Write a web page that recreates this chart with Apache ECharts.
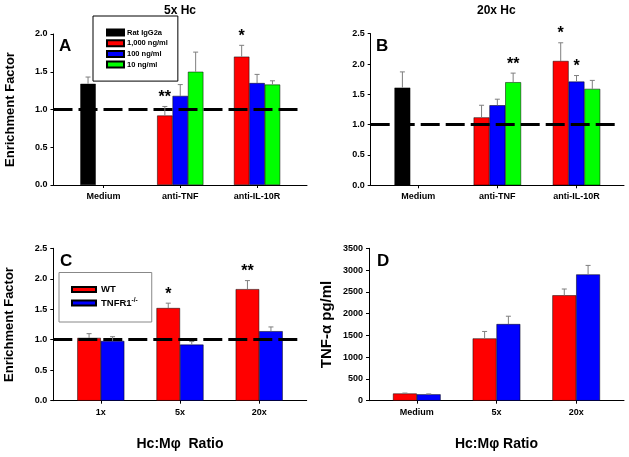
<!DOCTYPE html>
<html>
<head>
<meta charset="utf-8">
<script src="https://cdn.jsdelivr.net/npm/echarts@6/dist/echarts.min.js"></script>
<style>
  html, body { margin: 0; padding: 0; background: #fff; }
  #chart { width: 629px; height: 457px; }
</style>
</head>
<body>
<div id="chart"></div>
<script>
const FONT = "'Liberation Sans', Arial, sans-serif"

// categories
const groupsAB = ['Medium', 'anti-TNF', 'anti-IL-10R']
const ratiosC = ['1x', '5x', '20x']
const ratiosD = ['Medium', '5x', '20x']

// panel A (5x Hc)
const ratA = [1.34, null, null]
const ratAErr = [0.09, null, null]
const hiA = [null, 0.92, 1.70]
const hiAErr = [null, 0.12, 0.15]
const midA = [null, 1.18, 1.35]
const midAErr = [null, 0.15, 0.115]
const loA = [null, 1.50, 1.33]
const loAErr = [null, 0.26, 0.05]
const hiAStars = ['', '**', '*']

// panel B (20x Hc)
const ratB = [1.61, null, null]
const ratBErr = [0.26, null, null]
const hiB = [null, 1.12, 2.05]
const hiBErr = [null, 0.20, 0.30]
const midB = [null, 1.32, 1.71]
const midBErr = [null, 0.10, 0.10]
const loB = [null, 1.70, 1.59]
const loBErr = [null, 0.15, 0.14]
const hiBStars = ['', '', '*']
const midBStars = ['', '', '*']
const loBStars = ['', '**', '']

// panel C (enrichment, WT vs TNFR1-/-)
const wtC = [1.03, 1.52, 1.83]
const wtCErr = [0.07, 0.08, 0.14]
const koC = [0.98, 0.92, 1.14]
const koCErr = [0.07, 0.05, 0.07]
const wtCStars = ['', '*', '**']

// panel D (TNF-a pg/ml)
const wtD = [165, 1430, 2420]
const wtDErr = [10, 160, 145]
const koD = [146, 1760, 2900]
const koDErr = [10, 180, 207]

const RED = '#ff0000'
const BLUE = '#0000ff'
const GREEN = '#00ff00'
const BLACK = '#000000'

const pts = arr => arr.map((v, i) => [i + 1, v == null ? '-' : v])

const bar = (name, grid, vals, color, width, stack) => ({
  name,
  type: 'bar',
  xAxisIndex: grid,
  yAxisIndex: grid,
  stack,
  barWidth: width,
  barGap: '0%',
  data: pts(vals),
  itemStyle: { color, borderColor: '#000', borderWidth: 0.5 },
  emphasis: { disabled: true },
  silent: true
})

// error bars (upper only) plus significance stars, shifted to the bar slot
const errBars = (grid, vals, errs, slot, width, stars, refLine) => {
  const s = {
    type: 'custom',
    xAxisIndex: grid,
    yAxisIndex: grid,
    z: 5,
    silent: true,
    data: vals.map((v, i) => [i + 1, v == null ? NaN : v, errs[i] == null ? 0 : errs[i]]),
    renderItem: (params, api) => {
      const x = api.value(0)
      const y = api.value(1)
      const e = api.value(2)
      if (isNaN(y)) return null
      const base = api.coord([x, y])
      const top = api.coord([x, y + e])
      const cx = base[0] + slot * width
      const children = [
        { type: 'line', shape: { x1: cx, y1: base[1], x2: cx, y2: top[1] }, style: { stroke: '#7f7f7f', lineWidth: 1 } },
        { type: 'line', shape: { x1: cx - 2.5, y1: top[1], x2: cx + 2.5, y2: top[1] }, style: { stroke: '#7f7f7f', lineWidth: 1 } }
      ]
      const star = stars ? stars[params.dataIndex] : ''
      if (star) {
        children.push({
          type: 'text',
          style: {
            x: cx, y: top[1] - 1, text: star, align: 'center', verticalAlign: 'bottom',
            font: 'bold 16px ' + FONT, fill: '#000'
          }
        })
      }
      return { type: 'group', children }
    }
  }
  if (refLine) {
    s.markLine = {
      silent: true,
      symbol: ['none', 'none'],
      label: { show: false },
      lineStyle: { color: '#000', width: 3, type: [19, 6] },
      data: [[{ coord: [refLine[0], 1] }, { coord: [refLine[1], 1] }]]
    }
  }
  return s
}

const labelStyle = { color: '#000', fontFamily: FONT, fontWeight: 'bold', fontSize: 9 }

const xAxis = (grid, cats, min, max, name) => ({
  type: 'value',
  gridIndex: grid,
  min, max,
  splitLine: { show: false },
  axisLine: { onZero: false, lineStyle: { color: '#000', width: 1 } },
  axisTick: { customValues: [1, 2, 3], length: 3, lineStyle: { color: '#000' } },
  axisLabel: Object.assign({ customValues: [1, 2, 3], margin: 7, fontSize: 9.5, formatter: v => cats[Math.round(v) - 1] || '' }, labelStyle),
  name: name || '',
  nameLocation: 'middle',
  nameGap: 36,
  nameTextStyle: { color: '#000', fontFamily: FONT, fontWeight: 'bold', fontSize: 14 }
})

const yAxis = (grid, max, interval, digits, name, nameSize, nameGap) => ({
  type: 'value',
  gridIndex: grid,
  min: 0, max, interval,
  splitLine: { show: false },
  axisLine: { show: true, onZero: false, lineStyle: { color: '#000', width: 1 } },
  axisTick: { show: true, length: 3, lineStyle: { color: '#000' } },
  axisLabel: Object.assign({ margin: 6, formatter: v => v.toFixed(digits) }, labelStyle),
  name: name || '',
  nameLocation: 'middle',
  nameGap: nameGap || 37,
  nameTextStyle: { color: '#000', fontFamily: FONT, fontWeight: 'bold', fontSize: nameSize || 13 }
})

const chart = echarts.init(document.getElementById('chart'), null, { renderer: 'canvas' })

const titleText = (text, left, top, size) => ({
  text, left, top,
  padding: 0,
  textStyle: { color: '#000', fontFamily: FONT, fontWeight: 'bold', fontSize: size }
})

chart.setOption({
  animation: false,
  backgroundColor: '#fff',
  title: [
    titleText('5x Hc', 164, 5, 12),
    titleText('20x Hc', 477, 5, 12),
    titleText('A', 59, 38, 17),
    titleText('B', 376, 38, 17),
    titleText('C', 60, 253, 17),
    titleText('D', 377, 253, 17)
  ],
  legend: [
    {
      data: ['Rat IgG2a', '1,000 ng/ml', '100 ng/ml', '10 ng/ml'],
      orient: 'vertical',
      left: 93, top: 16,
      icon: 'rect',
      itemWidth: 17, itemHeight: 6, itemGap: 1.7,
      padding: [12, 10, 12, 13],
      borderColor: '#000', borderWidth: 1,
      backgroundColor: '#fff',
      selectedMode: false,
      z: 10,
      textStyle: { color: '#000', fontFamily: FONT, fontWeight: 'bold', fontSize: 7.5, lineHeight: 9, padding: [0, 0, 0, -2] }
    },
    {
      data: ['WT', 'TNFR1-/-'],
      orient: 'vertical',
      left: 59, top: 272.5,
      icon: 'rect',
      itemWidth: 24, itemHeight: 5, itemGap: 1.5,
      padding: [11, 14, 13, 12],
      borderColor: '#888', borderWidth: 1,
      backgroundColor: '#fff',
      selectedMode: false,
      z: 10,
      formatter: n => n === 'TNFR1-/-' ? 'TNFR1{sup|-/-}' : n,
      textStyle: {
        color: '#000', fontFamily: FONT, fontWeight: 'bold', fontSize: 9.5, lineHeight: 12,
        rich: { sup: { color: '#000', fontFamily: FONT, fontWeight: 'bold', fontSize: 6.5, lineHeight: 12, verticalAlign: 'top' } }
      }
    }
  ],
  grid: [
    { left: 53.5, top: 34, width: 253.5, height: 151 },
    { left: 370.7, top: 33.7, width: 253.3, height: 151.6 },
    { left: 53.3, top: 248.3, width: 253.4, height: 152.4 },
    { left: 369, top: 248.3, width: 255, height: 152.4 }
  ],
  xAxis: [
    xAxis(0, groupsAB, 0.35, 3.65),
    xAxis(1, groupsAB, 0.4, 3.6),
    xAxis(2, ratiosC, 0.4, 3.6, 'Hc:M\u03c6  Ratio'),
    xAxis(3, ratiosD, 0.4, 3.6, 'Hc:M\u03c6 Ratio')
  ],
  yAxis: [
    yAxis(0, 2.0, 0.5, 1, 'Enrichment Factor', 13, 37),
    yAxis(1, 2.5, 0.5, 1),
    yAxis(2, 2.5, 0.5, 1, 'Enrichment Factor', 13, 37),
    yAxis(3, 3500, 500, 0, 'TNF-\u03b1 pg/ml', 15, 35)
  ],
  series: [
    // A
    bar('Rat IgG2a', 0, ratA, BLACK, 15.4, 'a'),
    bar('1,000 ng/ml', 0, hiA, RED, 15.4, 'a'),
    bar('100 ng/ml', 0, midA, BLUE, 15.4),
    bar('10 ng/ml', 0, loA, GREEN, 15.4),
    errBars(0, ratA, ratAErr, -1, 15.4),
    errBars(0, hiA, hiAErr, -1, 15.4, hiAStars),
    errBars(0, midA, midAErr, 0, 15.4),
    errBars(0, loA, loAErr, 1, 15.4, null, [0.35, 3.56]),
    // B
    bar('Rat IgG2a', 1, ratB, BLACK, 15.8, 'b'),
    bar('1,000 ng/ml', 1, hiB, RED, 15.8, 'b'),
    bar('100 ng/ml', 1, midB, BLUE, 15.8),
    bar('10 ng/ml', 1, loB, GREEN, 15.8),
    errBars(1, ratB, ratBErr, -1, 15.8),
    errBars(1, hiB, hiBErr, -1, 15.8, hiBStars),
    errBars(1, midB, midBErr, 0, 15.8, midBStars),
    errBars(1, loB, loBErr, 1, 15.8, loBStars, [0.4, 3.52]),
    // C
    bar('WT', 2, wtC, RED, 23.5),
    bar('TNFR1-/-', 2, koC, BLUE, 23.5),
    errBars(2, wtC, wtCErr, -0.5, 23.5, wtCStars),
    errBars(2, koC, koCErr, 0.5, 23.5, null, [0.4, 3.51]),
    // D
    bar('WT', 3, wtD, RED, 23.8),
    bar('TNFR1-/-', 3, koD, BLUE, 23.8),
    errBars(3, wtD, wtDErr, -0.5, 23.8),
    errBars(3, koD, koDErr, 0.5, 23.8)
  ]
})
</script>
</body>
</html>
